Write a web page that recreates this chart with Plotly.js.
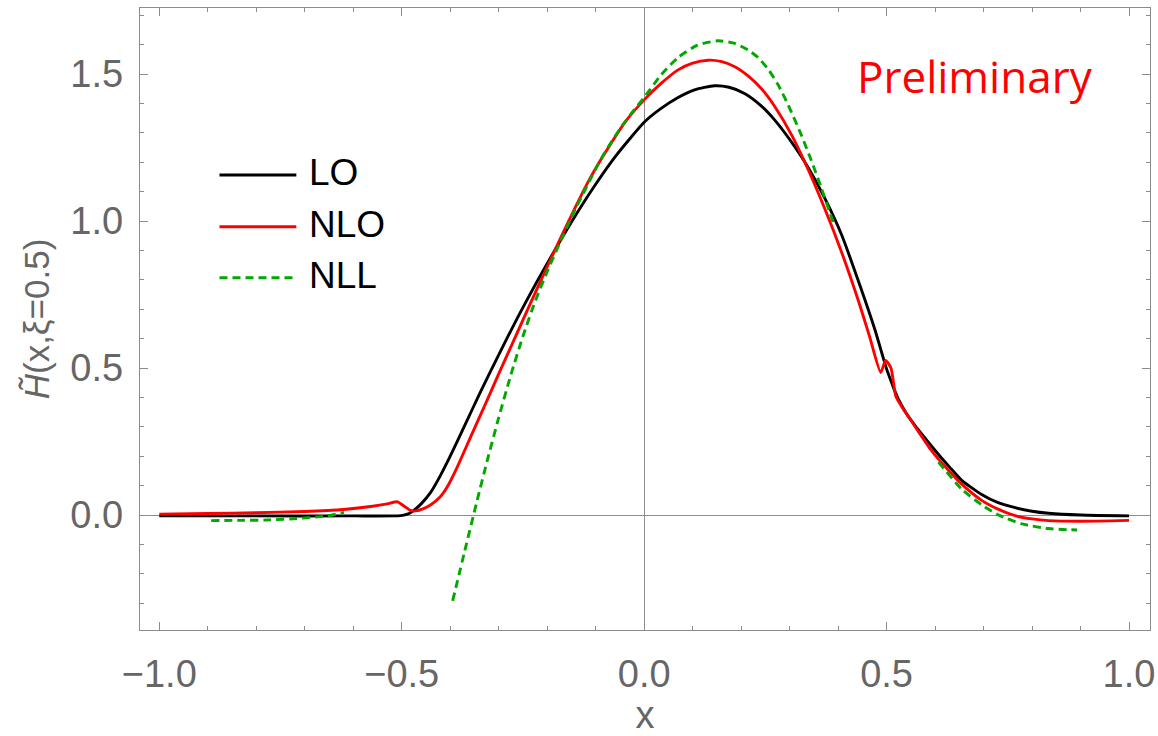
<!DOCTYPE html>
<html>
<head>
<meta charset="utf-8">
<script src="https://cdn.plot.ly/plotly-3.0.1.min.js"></script>
<style>html,body{margin:0;padding:0;background:#fff;}#chart{width:1158px;height:736px;}</style>
</head>
<body>
<div id="chart"></div>
<script>
// Series names
const seriesNames = ["LO", "NLO", "NLL"];

// LO
const xLO = [-1.0,-0.8,-0.6,-0.502,-0.49,-0.48,-0.46,-0.44,-0.42,-0.40,-0.37,-0.34,-0.30,-0.26,-0.22,-0.18,-0.14,-0.10,-0.06,-0.03,0.0,0.035,0.07,0.104,0.145,0.175,0.207,0.242,0.269,0.311,0.34,0.373,0.407,0.442,0.476,0.49,0.50,0.507,0.515,0.524,0.54,0.558,0.59,0.607,0.63,0.655,0.696,0.73,0.765,0.80,0.834,0.9,1.0];
const yLO = [-0.003,-0.003,-0.003,-0.002,0.002,0.01,0.038,0.078,0.135,0.20,0.305,0.41,0.545,0.675,0.797,0.913,1.023,1.125,1.218,1.279,1.336,1.383,1.42,1.446,1.460,1.455,1.434,1.391,1.344,1.252,1.177,1.076,0.954,0.795,0.630,0.552,0.497,0.465,0.43,0.395,0.348,0.306,0.24,0.206,0.163,0.118,0.07,0.042,0.025,0.013,0.006,0.0,-0.003];

// NLO
const xNLO = [-1.0,-0.9,-0.8,-0.7,-0.62,-0.56,-0.53,-0.509,-0.495,-0.481,-0.471,-0.455,-0.44,-0.42,-0.406,-0.385,-0.368,-0.35,-0.33,-0.30,-0.264,-0.24,-0.213,-0.192,-0.17,-0.144,-0.115,-0.085,-0.04,0.0,0.035,0.07,0.10,0.132,0.16,0.187,0.215,0.242,0.27,0.304,0.338,0.373,0.407,0.442,0.465,0.488,0.498,0.509,0.519,0.53,0.558,0.59,0.607,0.63,0.655,0.696,0.73,0.765,0.80,0.834,0.9,1.0];
const yNLO = [0.003,0.005,0.008,0.012,0.019,0.03,0.038,0.045,0.03,0.015,0.014,0.022,0.035,0.063,0.096,0.165,0.228,0.295,0.368,0.48,0.612,0.70,0.798,0.873,0.95,1.04,1.135,1.22,1.335,1.412,1.468,1.514,1.537,1.547,1.542,1.525,1.493,1.45,1.388,1.293,1.176,1.04,0.895,0.728,0.607,0.485,0.526,0.50,0.405,0.372,0.303,0.225,0.19,0.148,0.105,0.05,0.02,-0.002,-0.013,-0.019,-0.021,-0.018];

// NLL (null = gap where the curve is not drawn)
const xNLL = [-0.893,-0.83,-0.778,-0.709,-0.654,-0.619,-0.5,-0.395,-0.37,-0.345,-0.323,-0.30,-0.275,-0.25,-0.225,-0.20,-0.172,-0.145,-0.117,-0.089,-0.067,-0.045,-0.022,0.0,0.035,0.07,0.11,0.152,0.185,0.214,0.235,0.255,0.276,0.297,0.324,0.345,0.366,0.39,0.5,0.607,0.655,0.696,0.731,0.779,0.834,0.893];
const yNLL = [-0.019,-0.018,-0.017,-0.011,-0.003,0.009,null,-0.292,-0.122,0.046,0.189,0.331,0.476,0.608,0.726,0.828,0.933,1.03,1.122,1.211,1.27,1.325,1.375,1.42,1.497,1.556,1.598,1.613,1.605,1.582,1.556,1.518,1.464,1.395,1.293,1.205,1.11,0.995,null,0.18,0.088,0.035,0.0,-0.03,-0.046,-0.051];

const colors = ["#000000", "#ff0000", "#00a800"];

const traces = [
  {x: xLO, y: yLO, name: seriesNames[0], mode: "lines", line: {color: colors[0], width: 2.9, shape: "spline", smoothing: 0.6}},
  {x: xNLO, y: yNLO, name: seriesNames[1], mode: "lines", line: {color: colors[1], width: 2.9, shape: "spline", smoothing: 0.6}},
  {x: xNLL, y: yNLL, name: seriesNames[2], mode: "lines", connectgaps: false, line: {color: colors[2], width: 2.9, dash: "8px,5px", shape: "spline", smoothing: 0.6}}
];

const tickFont = {family: "Liberation Sans, Arial, sans-serif", size: 38, color: "#666666"};
const axisCommon = {
  showgrid: false,
  zeroline: true, zerolinecolor: "#8c8c8c", zerolinewidth: 1,
  showline: true, linecolor: "#8c8c8c", linewidth: 1.3, mirror: "allticks",
  ticks: "inside", ticklen: 8, tickwidth: 1, tickcolor: "#8c8c8c",
  tickfont: tickFont,
  minor: {dtick: 0.1, ticks: "inside", ticklen: 4, tickwidth: 1, tickcolor: "#8c8c8c"}
};

// legend built from shapes + text (paper coords)
const legY = [0.7315, 0.6484, 0.5664];
const shapes = [];
const annotations = [];
for (let i = 0; i < 3; i++) {
  const ln = {type: "line", xref: "paper", yref: "paper", x0: 0.0787, x1: 0.1548, y0: legY[i], y1: legY[i], line: {color: colors[i], width: 2.9}};
  if (i === 2) ln.line.dash = "8px,5px";
  shapes.push(ln);
  annotations.push({xref: "paper", yref: "paper", x: 0.165, y: legY[i] + 0.004, xanchor: "left", yanchor: "middle", showarrow: false, text: seriesNames[i], font: {family: "Liberation Sans, Arial, sans-serif", size: 37, color: "#000000"}});
}
annotations.push({xref: "paper", yref: "paper", x: 0.708, y: 0.891, xanchor: "left", yanchor: "middle", showarrow: false, text: "Preliminary", font: {family: "Open Sans, Liberation Sans, sans-serif", size: 44, color: "#ff0000"}});

const layout = {
  width: 1158, height: 736,
  margin: {l: 140, r: 8, t: 8, b: 106},
  paper_bgcolor: "#ffffff", plot_bgcolor: "#ffffff",
  showlegend: false,
  xaxis: Object.assign({}, axisCommon, {range: [-1.0398, 1.0433], tickmode: "array", tickvals: [-1, -0.5, 0, 0.5, 1], ticktext: ["\u22121.0", "\u22120.5", "0.0", "0.5", "1.0"], ticklabelstandoff: 10,
    title: {text: "x", font: {family: "Liberation Sans, Arial, sans-serif", size: 38, color: "#666666"}, standoff: 14}}),
  yaxis: Object.assign({}, axisCommon, {range: [-0.391, 1.7245], tickmode: "array", tickvals: [0, 0.5, 1.0, 1.5], ticktext: ["0.0", "0.5", "1.0", "1.5"], ticklabelstandoff: 8,
    title: {text: "<i>H\u0303</i>(x,\u03be=0.5)", font: {family: "Liberation Sans, Arial, sans-serif", size: 35, color: "#666666"}, standoff: 10}}),
  shapes: shapes,
  annotations: annotations
};

Plotly.newPlot("chart", traces, layout, {displayModeBar: false, staticPlot: true});
</script>
</body>
</html>
